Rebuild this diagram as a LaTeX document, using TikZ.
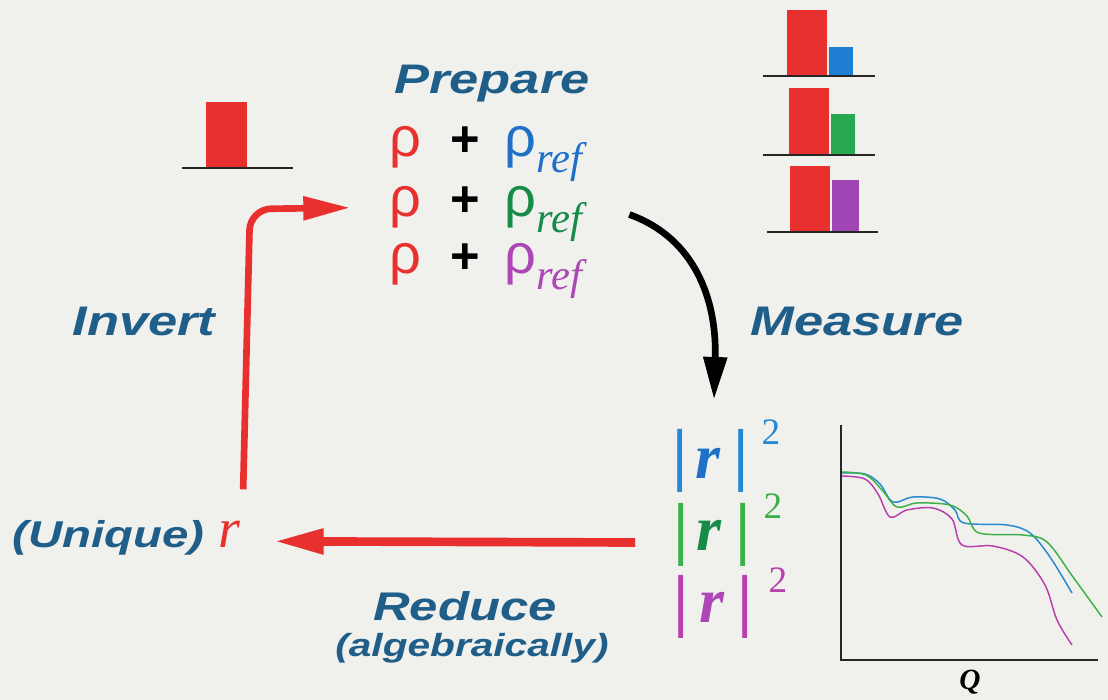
\documentclass[tikz,border=0pt]{standalone}
\usepackage{fontspec}
\setmainfont{Liberation Serif}
\newfontfamily\lblfont[FakeStretch=1.27]{Liberation Sans}
\newfontfamily\rhofont{Liberation Sans}
\newfontfamily\tmsit{Liberation Serif Italic}
\usetikzlibrary{arrows.meta,calc}
\definecolor{bgc}{RGB}{240,240,237}
\definecolor{lblblue}{RGB}{32,94,138}
\definecolor{myred}{RGB}{232,48,46}
\definecolor{rblue}{RGB}{30,112,200}
\definecolor{rgreen}{RGB}{22,140,72}
\definecolor{rpurple}{RGB}{172,72,182}
\definecolor{cblue}{RGB}{36,136,210}
\definecolor{cgreen}{RGB}{60,176,72}
\definecolor{cmag}{RGB}{186,62,172}
\definecolor{barblue}{RGB}{30,126,210}
\definecolor{bargreen}{RGB}{40,168,80}
\definecolor{barpurple}{RGB}{160,70,180}
\tikzset{
  lbl/.style={text=lblblue, inner sep=0, font=\lblfont\bfseries\itshape\fontsize{31}{34}\selectfont},
  sublbl/.style={text=lblblue, inner sep=0, font=\lblfont\bfseries\itshape\fontsize{24}{27}\selectfont},
  rho/.style={inner sep=0, anchor=base west, font=\rhofont\fontsize{42}{46}\selectfont},
  plus/.style={inner sep=0, anchor=base, font=\rhofont\bfseries\fontsize{38}{42}\selectfont},
  reff/.style={inner sep=0, anchor=base west, font=\tmsit\fontsize{32}{34}\selectfont},
  vbar/.style={inner sep=0, font=\bfseries\fontsize{52}{56}\selectfont},
  rr/.style={inner sep=0, font=\bfseries\itshape\fontsize{48}{52}\selectfont},
  two/.style={inner sep=0, font=\fontsize{28}{30}\selectfont},
  baseline/.style={black!85, line width=1.3pt},
  curve/.style={line width=1.1pt, smooth, tension=0.55},
}
\begin{document}
\begin{tikzpicture}[x=0.75pt,y=-0.75pt]
\fill[bgc] (0,0) rectangle (1108,700);
\useasboundingbox (0,0) rectangle (1108,700);

% labels
\node[lbl, anchor=base] (prep) at (492,93) {Prepare};
\node[lbl, anchor=base] (meas) at (857,335) {Measure};
\node[lbl, anchor=base] (inv) at (144,335) {Invert};
\node[lbl, anchor=base, font=\lblfont\bfseries\itshape\fontsize{30}{33}\selectfont] (red) at (465,620) {Reduce};
\node[sublbl, anchor=base] (alg) at (472,656) {(algebraically)};
\node[lbl, anchor=base west, font=\lblfont\bfseries\itshape\fontsize{28}{31}\selectfont] (uniq) at (12,547) {(Unique)};
\node[inner sep=0, anchor=base west, text=myred, font=\tmsit\fontsize{42}{46}\selectfont] (ur) at (218,547) {r};

% rho rows
\node[rho, text=myred] (r1a) at (389,156) {ρ};
\node[plus] (r1p) at (465,156) {+};
\node[rho, text=rblue] (r1b) at (504,156) {ρ};
\node[reff, text=rblue] (r1ref) at (536,172) {ref};

\node[rho, text=myred] (r2a) at (389,216) {ρ};
\node[plus] (r2p) at (465,216) {+};
\node[rho, text=rgreen] (r2b) at (504,216) {ρ};
\node[reff, text=rgreen] (r2ref) at (536,232) {ref};

\node[rho, text=myred] (r3a) at (389,273) {ρ};
\node[plus] (r3p) at (465,273) {+};
\node[rho, text=rpurple] (r3b) at (504,273) {ρ};
\node[reff, text=rpurple] (r3ref) at (536,289) {ref};

% |r|^2 rows
\node[vbar, text=cblue] (bb1) at (680,461) {|};
\node[rr, text=rblue] (br) at (708,463) {r};
\node[vbar, text=cblue] (bb2) at (741,461) {|};
\node[two, text=cblue] (b2) at (771,432) {2};

\node[vbar, text=cgreen] (gb1) at (681,535) {|};
\node[rr, text=rgreen] (gr) at (709,535) {r};
\node[vbar, text=cgreen] (gb2) at (743,535) {|};
\node[two, text=cgreen] (g2) at (773,506) {2};

\node[vbar, text=cmag] (mb1) at (681,607) {|};
\node[rr, text=rpurple] (mr) at (712,607) {r};
\node[vbar, text=cmag] (mb2) at (745,607) {|};
\node[two, text=cmag] (m2) at (778,580) {2};

% graph
\draw[black!85, line width=1.3pt] (841,425) -- (841,660) -- (1098,660);
\node[inner sep=0, font=\bfseries\itshape\fontsize{22}{24}\selectfont] (q) at (970,682) {Q};
\draw[curve, cblue] plot coordinates {(842,473) (865,474) (880,484) (893,502) (913,497) (940,499) (955,510) (964,523) (1007,525) (1030,533) (1050,557) (1072,593)};
\draw[curve, cgreen] plot coordinates {(842,472) (866,475) (882,490) (897,507) (917,503) (950,505) (967,516) (979,533) (1023,535) (1047,542) (1073,577) (1102,617)};
\draw[curve, cmag] plot coordinates {(842,476) (865,479) (878,494) (890,517) (907,510) (933,508) (952,519) (962,545) (993,546) (1023,557) (1045,585) (1057,620) (1072,645)};

% bar charts
\fill[myred] (206,102) rectangle (247,168);
\draw[baseline] (182,168) -- (293,168);

\fill[myred] (787,10) rectangle (827,76);
\fill[barblue] (829,47) rectangle (853,76);
\draw[baseline] (763,76) -- (875,76);

\fill[myred] (789,88) rectangle (829,155);
\fill[bargreen] (831,114) rectangle (855,155);
\draw[baseline] (763,155) -- (875,155);

\fill[myred] (790,166) rectangle (830,232);
\fill[barpurple] (832,180) rectangle (859,232);
\draw[baseline] (767,232) -- (878,232);

% arrows
\draw[myred, line width=5pt, rounded corners=16pt, -{Triangle[length=35pt,width=17pt]}]
  ($(ur.north)+(14,-31)$) -- (250,209) -- ($(r2a.west)+(-39,1)$);
\draw[myred, line width=6.5pt, -{Triangle[length=37pt,width=18pt]}]
  ($(gb1.west)+(-38,7.5)$) -- ($(ur.east)+(34,7.5)$);
\draw[black, line width=5pt, -{Triangle[length=32pt,width=17pt]}]
  ($(r2ref.east)+(47,-7)$) .. controls (695,238) and (717,300) .. ($(br.north)+(6,-48)$);
\end{tikzpicture}
\end{document}
